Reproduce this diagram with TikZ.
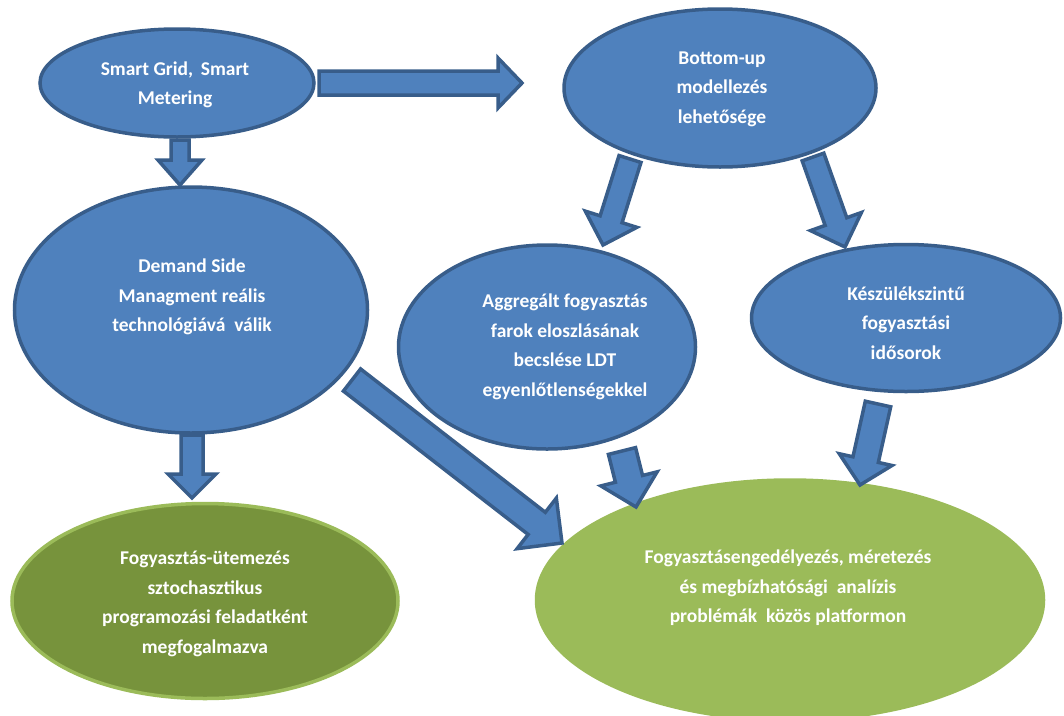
\documentclass[tikz,border=0pt]{standalone}
\usepackage{fontspec}
\setmainfont{Carlito}
\usetikzlibrary{shapes.geometric,calc}
\definecolor{bfill}{HTML}{4F81BD}
\definecolor{bline}{HTML}{385D8A}
\definecolor{gdark}{HTML}{77933C}
\definecolor{glight}{HTML}{9BBB59}
\tikzset{
  ell/.style={ellipse, inner sep=0pt, line width=3.5pt},
  blueell/.style={ell, fill=bfill, draw=bline},
  dgreenell/.style={ell, fill=gdark, draw=glight},
  lgreenell/.style={ell, fill=glight, draw=glight},
  txt/.style={text=white, font=\bfseries\fontsize{19.5}{29.5}\selectfont, align=center, inner sep=0pt},
  barrowstyle/.style={fill=bfill, draw=bline, line width=3.5pt, line join=miter},
}
% start, end, shaft half width, head half width, head length
\newcommand\blockarrow[5]{%
  \coordinate (bah) at ($(#2)!#5!(#1)$);
  \draw[barrowstyle] ($(#1)!#3!90:(#2)$) -- ($(bah)!#3!90:(#2)$) -- ($(bah)!#4!90:(#2)$)
    -- (#2) -- ($(bah)!#4!-90:(#2)$) -- ($(bah)!#3!-90:(#2)$) -- ($(#1)!#3!-90:(#2)$) -- cycle;
}
\begin{document}
\begin{tikzpicture}[x=1pt,y=-1pt]
\path[use as bounding box] (0,0) rectangle (1064,715);
\clip (0,0) rectangle (1064,715);
% ellipses
\node[blueell, minimum width=274pt, minimum height=108pt] (sg) at (177,83) {};
\node[blueell, minimum width=312pt, minimum height=158pt] (bu) at (720,88) {};
\node[blueell, minimum width=353pt, minimum height=246pt] (ds) at (191,310) {};
\node[blueell, minimum width=297pt, minimum height=204pt] (ag) at (547,347) {};
\node[blueell, minimum width=309pt, minimum height=147pt] (kz) at (906,318) {};
\node[dgreenell, minimum width=386pt, minimum height=195pt] (fg) at (205,601) {};
\node[lgreenell, minimum width=507pt, minimum height=240pt] (lg) at (790,600) {};
% texts
\node[txt] (sgT) at (175,85) {Smart Grid,\, Smart\\Metering};
\node[txt] (buT) at (722,89) {Bottom-up\\modellezés\\lehetősége};
\node[txt] (dsT) at (192,297) {Demand Side\\Managment reális\\technológiává\ \ válik};
\node[txt] (agT) at (565,347) {Aggregált fogyasztás\\farok eloszlásának\\becslése LDT\\egyenlőtlenségekkel};
\node[txt] (kzT) at (906,323) {Készülékszintű\\fogyasztási\\idősorok};
\node[txt] (fgT) at (205,604) {Fogyasztás-ütemezés\\sztochasztikus\\programozási feladatként\\megfogalmazva};
\node[txt] (lgT) at (788,588) {Fogyasztásengedélyezés, méretezés\\és megbízhatósági\ \ analízis\\problémák\ \ közös platformon};
% arrow end points
\coordinate (a1s) at (319,83);  \coordinate (a1e) at (522,83);
\coordinate (a2s) at (180,140); \coordinate (a2e) at (180,185);
\coordinate (a3s) at (192,435); \coordinate (a3e) at (192,498);
\coordinate (a4s) at (352,380); \coordinate (a4e) at (562,543);
\coordinate (a5s) at (630,159); \coordinate (a5e) at (603,245);
\coordinate (a6s) at (813,157); \coordinate (a6e) at (845,247);
\coordinate (a7s) at (622,451); \coordinate (a7e) at (636,507);
\coordinate (a8s) at (878,404); \coordinate (a8e) at (860,485);
% block arrows
\blockarrow{a1s}{a1e}{12pt}{25pt}{24pt}
\blockarrow{a2s}{a2e}{9pt}{22pt}{25pt}
\blockarrow{a3s}{a3e}{11pt}{24pt}{24pt}
\blockarrow{a4s}{a4e}{14pt}{32pt}{32pt}
\blockarrow{a5s}{a5e}{11.5pt}{27pt}{27pt}
\blockarrow{a6s}{a6e}{11.5pt}{27pt}{27pt}
\blockarrow{a7s}{a7e}{14pt}{29pt}{29pt}
\blockarrow{a8s}{a8e}{13pt}{27pt}{26pt}
\end{tikzpicture}
\end{document}
